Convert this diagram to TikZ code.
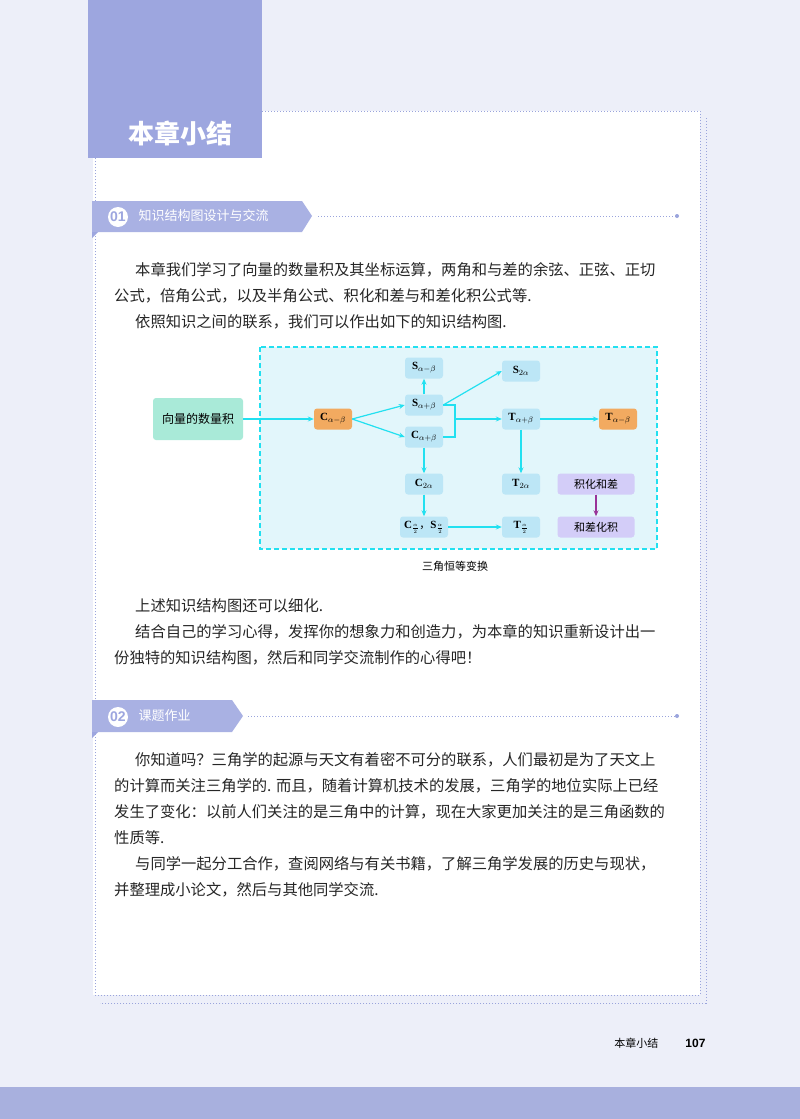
\documentclass[tikz,border=0pt]{standalone}
\usepackage{fontspec}
\setmainfont{Liberation Serif}
\setsansfont{Liberation Sans}
\newfontfamily\cjk{Noto Sans CJK SC}
\usetikzlibrary{arrows.meta}
\definecolor{pagebg}{HTML}{EDEFF9}
\definecolor{lav}{HTML}{9DA6DF}
\definecolor{lavh}{HTML}{A9B1E3}
\definecolor{band}{HTML}{A8B0DE}
\definecolor{cy}{HTML}{22E0F0}
\definecolor{boxbg}{HTML}{E2F6FB}
\definecolor{nodebg}{HTML}{BCE6F6}
\definecolor{orng}{HTML}{F2AA60}
\definecolor{grn}{HTML}{A9EAD8}
\definecolor{purp}{HTML}{D3CDF8}
\definecolor{dotc}{HTML}{9AA4DC}
\tikzset{
 bodytxt/.style={anchor=west,inner sep=0pt,font=\cjk\fontsize{15.3}{16}\selectfont,text=black!85},
 fm/.style={rounded corners=3pt,minimum width=38pt,minimum height=21pt,inner sep=1pt,font=\fontsize{11}{12}\selectfont\bfseries},
 bl/.style={fm,fill=nodebg},
 og/.style={fm,fill=orng},
 pu/.style={fm,fill=purp,minimum width=77pt,font=\cjk\fontsize{11}{12}\selectfont},
 ar/.style={draw=cy,line width=1.2pt,-{Stealth[length=6pt,width=5pt]}},
 dotl/.style={draw=dotc,line width=0.8pt,dash pattern=on 1pt off 2pt},
}
\begin{document}
\begin{tikzpicture}[x=1pt,y=-1pt]
\useasboundingbox (0,0) rectangle (800,1119);
\fill[pagebg] (0,0) rectangle (800,1119);
\fill[band] (0,1087) rectangle (800,1119);
% white panel
\fill[white] (93,111) rectangle (700,995);
\draw[dotl] (262,111) -- (700,111) -- (700,995) -- (95,995) -- (95,158);
\draw[dotl] (706,118) -- (706,1003) -- (100,1003);
% title box
\fill[lav] (88,0) rectangle (262,158);
\node[font=\cjk\fontsize{26}{28}\selectfont\bfseries,text=white] (title) at (180,133) {本章小结};
% header 01
\fill[lavh] (92,201) -- (302,201) -- (312,216) -- (302,232) -- (92,232) -- cycle;
\fill[lav] (92,232) -- (98,232) -- (92,238) -- cycle;
\fill[white] (118,217) circle (10);
\node[font=\sffamily\bfseries\fontsize{14}{14}\selectfont,text=lav] (h1n) at (118,217) {01};
\node[anchor=west,font=\cjk\fontsize{13}{14}\selectfont,text=white] (h1) at (135,216) {知识结构图设计与交流};
\draw[dotl] (318,216) -- (676,216);
\fill[dotc] (677,216) circle (2);
% header 02
\fill[lavh] (92,700) -- (232,700) -- (243,716) -- (232,732) -- (92,732) -- cycle;
\fill[lav] (92,732) -- (98,732) -- (92,738) -- cycle;
\fill[white] (118,717) circle (10);
\node[font=\sffamily\bfseries\fontsize{14}{14}\selectfont,text=lav] (h2n) at (118,717) {02};
\node[anchor=west,font=\cjk\fontsize{13}{14}\selectfont,text=white] (h2) at (135,716) {课题作业};
\draw[dotl] (248,716) -- (676,716);
\fill[dotc] (677,716) circle (2);
% body text
\node[bodytxt] (t1) at (135,270) {本章我们学习了向量的数量积及其坐标运算，两角和与差的余弦、正弦、正切};
\node[bodytxt] (t2) at (114,296) {公式，倍角公式，以及半角公式、积化和差与和差化积公式等.};
\node[bodytxt] (t3) at (135,322) {依照知识之间的联系，我们可以作出如下的知识结构图.};
\node[bodytxt] (t4) at (135,606) {上述知识结构图还可以细化.};
\node[bodytxt] (t5) at (135,632) {结合自己的学习心得，发挥你的想象力和创造力，为本章的知识重新设计出一};
\node[bodytxt] (t6) at (114,658) {份独特的知识结构图，然后和同学交流制作的心得吧！};
\node[bodytxt] (u1) at (135,760) {你知道吗？三角学的起源与天文有着密不可分的联系，人们最初是为了天文上};
\node[bodytxt] (u2) at (114,786) {的计算而关注三角学的. 而且，随着计算机技术的发展，三角学的地位实际上已经};
\node[bodytxt] (u3) at (114,812) {发生了变化：以前人们关注的是三角中的计算，现在大家更加关注的是三角函数的};
\node[bodytxt] (u4) at (114,838) {性质等.};
\node[bodytxt] (u5) at (135,864) {与同学一起分工合作，查阅网络与有关书籍，了解三角学发展的历史与现状，};
\node[bodytxt] (u6) at (114,890) {并整理成小论文，然后与其他同学交流.};
% footer
\node[anchor=east,font=\cjk\fontsize{11}{12}\selectfont] (f1) at (662,1043) {本章小结};
\node[anchor=east,font=\sffamily\bfseries\fontsize{12}{12}\selectfont] (f2) at (709,1043) {107};
% diagram
\draw[cy,fill=boxbg,line width=1.2pt,dash pattern=on 5pt off 3pt] (260,347) rectangle (657,549);
\node[fm,fill=grn,minimum width=90pt,minimum height=42pt,font=\cjk\fontsize{12}{13}\selectfont] (vec) at (198,419) {向量的数量积};
\node[og] (cm) at (333,419) {C$_{\alpha-\beta}$};
\node[bl] (smt) at (424,368) {S$_{\alpha-\beta}$};
\node[bl] (sp) at (424,405) {S$_{\alpha+\beta}$};
\node[bl] (cp) at (424,437) {C$_{\alpha+\beta}$};
\node[bl] (s2) at (521,371) {S$_{2\alpha}$};
\node[bl] (tp) at (521,419) {T$_{\alpha+\beta}$};
\node[og] (tm) at (618,419) {T$_{\alpha-\beta}$};
\node[bl] (c2) at (424,484) {C$_{2\alpha}$};
\node[bl] (t2a) at (521,484) {T$_{2\alpha}$};
\node[pu] (jh) at (596,484) {积化和差};
\node[pu] (hc) at (596,527) {和差化积};
\node[bl,minimum width=48pt] (half) at (424,527) {C$_{\frac{\alpha}{2}}${\cjk\mdseries ，}S$_{\frac{\alpha}{2}}$};
\node[bl] (th) at (521,527) {T$_{\frac{\alpha}{2}}$};
\node[font=\cjk\fontsize{11}{12}\selectfont] (cap) at (455,566) {三角恒等变换};
\coordinate (j) at (455,419);
\draw[ar] (vec) -- (cm);
\draw[ar] (cm.east) -- (sp.west);
\draw[ar] (cm.east) -- (cp.west);
\draw[ar] (sp) -- (smt);
\draw[ar] (sp.east) -- (s2.west);
\draw[cy,line width=1.2pt] (sp.east) -| (j) |- (cp.east);
\draw[ar] (j) -- (tp);
\draw[ar] (tp) -- (tm);
\draw[ar] (tp) -- (t2a);
\draw[ar] (cp) -- (c2);
\draw[ar] (c2) -- (half);
\draw[ar] (half) -- (th);
\draw[draw=violet!80,line width=1.2pt,-{Stealth[length=6pt,width=5pt]}] (jh) -- (hc);
\end{tikzpicture}
\end{document}
